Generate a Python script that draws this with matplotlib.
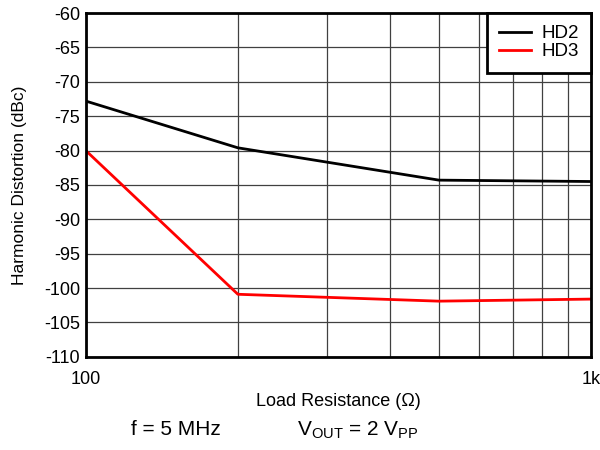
import numpy as np
import matplotlib
matplotlib.use('Agg')
import matplotlib.pyplot as plt
from matplotlib.ticker import FixedLocator, NullFormatter

plt.rcParams['font.family'] = ['Liberation Sans', 'DejaVu Sans']

# data
load_ohm = [100, 200, 500, 1000]
hd2_dbc = [-72.8, -79.6, -84.3, -84.5]
hd3_dbc = [-80.0, -100.9, -101.9, -101.6]

y_ticks = list(range(-110, -55, 5))

fig = plt.figure(figsize=(6, 4.5), dpi=100)
ax = fig.add_axes([0.143, 0.207, 0.842, 0.764])

ax.plot(load_ohm, hd2_dbc, color='black', lw=2, label='HD2')
ax.plot(load_ohm, hd3_dbc, color='#ff0000', lw=2, label='HD3')

ax.set_xscale('log')
ax.set_xlim(100, 1000)
ax.set_ylim(-110, -60)
ax.set_yticks(y_ticks)
ax.set_yticklabels([str(v) for v in y_ticks], fontsize=13)

ax.xaxis.set_major_locator(FixedLocator([100, 1000]))
ax.set_xticklabels(['100', '1k'], fontsize=13)
ax.xaxis.set_minor_locator(FixedLocator([200, 300, 400, 500, 600, 700, 800, 900]))
ax.xaxis.set_minor_formatter(NullFormatter())
ax.tick_params(axis='both', which='both', length=0)
ax.tick_params(axis='x', pad=10)
ax.tick_params(axis='y', pad=4)

ax.grid(True, which='both', color='#404040', lw=0.9)
for s in ax.spines.values():
    s.set_linewidth(2)

ax.set_xlabel('Load Resistance (Ω)', fontsize=13, labelpad=4)
ax.set_ylabel('Harmonic Distortion (dBc)', fontsize=12.5, labelpad=12)

leg = ax.legend(loc='upper right', borderaxespad=0, fancybox=False,
                framealpha=1, edgecolor='black', fontsize=13.5,
                handlelength=1.7, handletextpad=0.55, borderpad=0.65,
                labelspacing=0.05)
leg.get_frame().set_linewidth(2)

fig.text(0.293, 0.033, 'f = 5 MHz', fontsize=15, ha='center')
fig.text(0.597, 0.033, r'V$_{\mathregular{OUT}}$ = 2 V$_{\mathregular{PP}}$', fontsize=15, ha='center')

fig.savefig('out.png', dpi=100)
